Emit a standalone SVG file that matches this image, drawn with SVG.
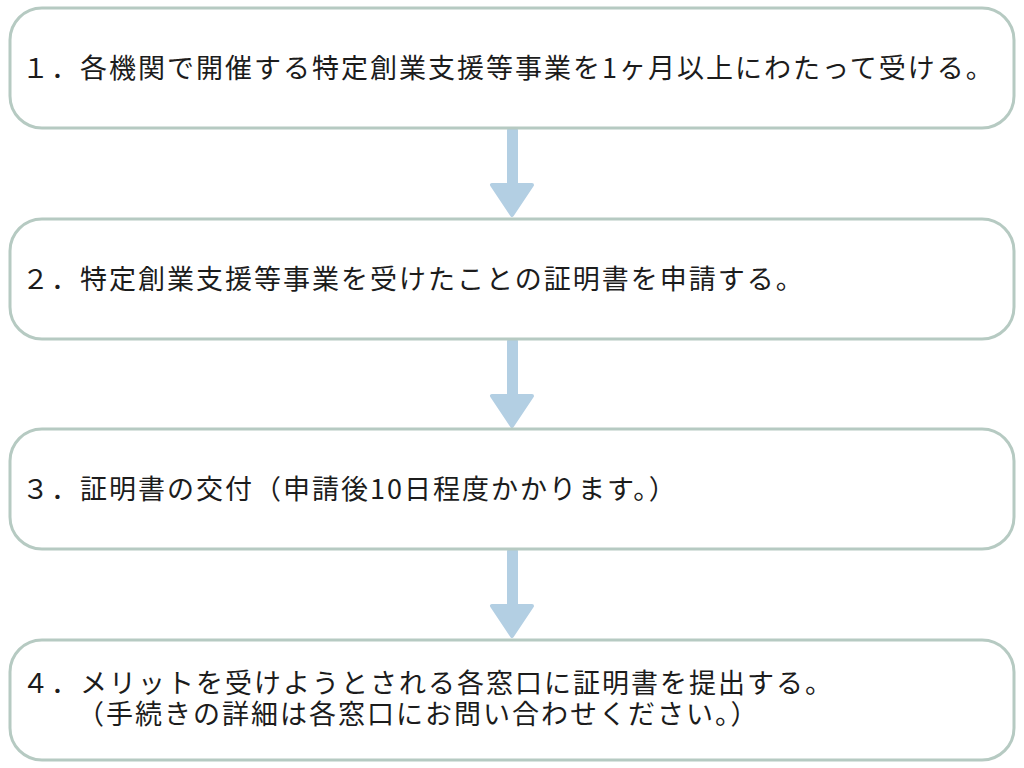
<svg xmlns="http://www.w3.org/2000/svg" width="1024" height="768" viewBox="0 0 1024 768">
<style>
.box{fill:#ffffff;stroke:#b6cac2;stroke-width:3}
.t{font-family:"Noto Sans CJK JP","Noto Sans CJK SC",sans-serif;font-size:27px;letter-spacing:2px;fill:#1c1c1c}
.arr{fill:#b3cfe3;stroke:#b3cfe3;stroke-width:4;stroke-linejoin:round}
</style>
<rect width="1024" height="768" fill="#ffffff"/>
<g id="connectors">
<path class="arr" d="M509,130 H516 V185 H532 L512,215 L492,185 H509 Z"/>
<path class="arr" d="M509,341 H516 V396 H532 L512,426 L492,396 H509 Z"/>
<path class="arr" d="M509,551 H516 V606 H532 L512,636 L492,606 H509 Z"/>
</g>
<g id="step1">
<rect class="box" x="10" y="8" width="1004" height="120" rx="32" ry="32"/>
<text class="t" x="22" y="78">１．各機関で開催する特定創業支援等事業を1ヶ月以上にわたって受ける。</text>
</g>
<g id="step2">
<rect class="box" x="10" y="219" width="1004" height="120" rx="32" ry="32"/>
<text class="t" x="22" y="289">２．特定創業支援等事業を受けたことの証明書を申請する。</text>
</g>
<g id="step3">
<rect class="box" x="10" y="429" width="1004" height="120" rx="32" ry="32"/>
<text class="t" x="22" y="499">３．証明書の交付（申請後10日程度かかります。）</text>
</g>
<g id="step4">
<rect class="box" x="10" y="640" width="1004" height="120" rx="32" ry="32"/>
<text class="t"><tspan x="22" y="693">４．メリットを受けようとされる各窓口に証明書を提出する。</tspan><tspan x="77" y="724">（手続きの詳細は各窓口にお問い合わせください。）</tspan></text>
</g>
</svg>
